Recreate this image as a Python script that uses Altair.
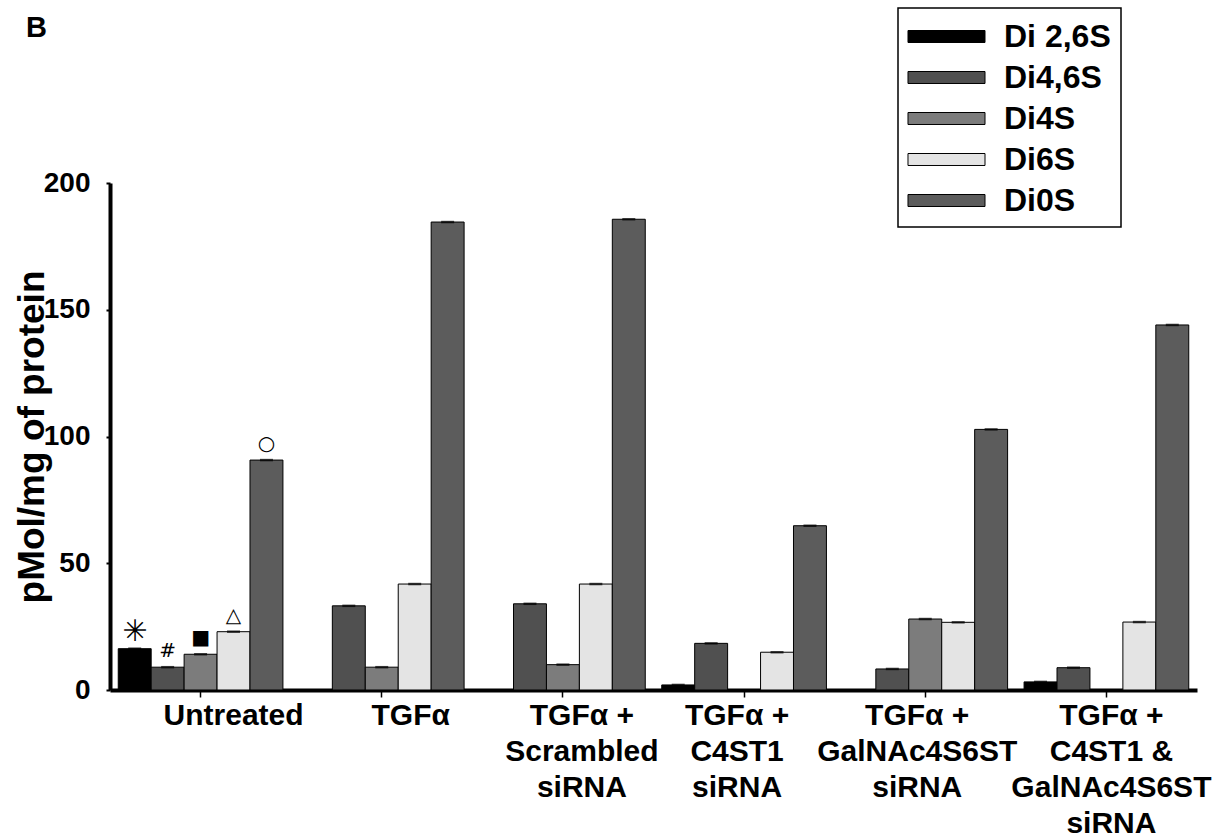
import altair as alt
import pandas as pd

# ---- data ----
groups = ["Untreated", "TGFα", "TGFα +|Scrambled|siRNA", "TGFα +|C4ST1|siRNA",
          "TGFα +|GalNAc4S6ST|siRNA", "TGFα +|C4ST1 &|GalNAc4S6ST|siRNA"]
series = ["Di 2,6S", "Di4,6S", "Di4S", "Di6S", "Di0S"]
di26 = [16.3, 0.0, 0.0, 2.0, 0.0, 3.2]
di46 = [9.0, 33.2, 34.0, 18.4, 8.3, 8.8]
di4s = [14.1, 9.0, 10.0, 0.0, 28.0, 0.0]
di6s = [23.0, 41.8, 41.8, 14.9, 26.7, 26.8]
di0s = [90.7, 184.6, 185.7, 64.8, 102.8, 144.0]
untreated_marks = ["✳", "#", "■", "△", "○"]
panel_label = ["B"]
fills = ["#000000", "#505050", "#7c7c7c", "#e4e4e4", "#5c5c5c"]
# horizontal shift of each category label relative to its tick (as in the figure)
label_shift = [33, 29, 19, -7, -8, 5]

values = [di26, di46, di4s, di6s, di0s]
rows = []
for s, vals in zip(series, values):
    for g, v in zip(groups, vals):
        rows.append({"group": g, "series": s, "value": v})
df = pd.DataFrame(rows)
df_nz = df[df["value"] > 0]
ann = pd.DataFrame({"group": [groups[0]] * 5, "series": series,
                    "value": [v[0] for v in values], "mark": untreated_marks})

FONT = "Liberation Sans"
shift_expr = "[" + ",".join(str(v) for v in label_shift) + "][round(datum.index*5)]"

x_enc = alt.X("group:N", sort=groups,
              scale=alt.Scale(paddingInner=0, paddingOuter=0),
              axis=alt.Axis(title=None, labelExpr="split(datum.label, '|')",
                            labelAngle=0, labelFont=FONT, labelFontSize=30,
                            labelFontWeight="bold", labelColor="black",
                            labelLineHeight=36, labelPadding=3, labelBaseline="top",
                            labelLimit=400, labelOverlap=False,
                            labelOffset={"expr": shift_expr},
                            tickSize=7, tickWidth=1.5, tickColor="black",
                            domainWidth=4, domainColor="black"))
xo_enc = alt.XOffset("series:N", sort=series,
                     scale=alt.Scale(paddingInner=0, paddingOuter=0.25))
y_enc = alt.Y("value:Q", scale=alt.Scale(domain=[0, 200], nice=False),
              axis=alt.Axis(values=[0, 50, 100, 150, 200], title="pMol/mg of protein",
                            grid=False, domainWidth=4, domainColor="black",
                            tickColor="black", tickSize=4, tickWidth=2,
                            labelFont=FONT, labelFontSize=28, labelFontWeight="bold",
                            labelColor="black", labelPadding=16,
                            titleFont=FONT, titleFontSize=37, titleFontWeight="bold",
                            titleColor="black", titleX=-67, titleY=253.5,
                            titleAngle=270, titleAlign="center",
                            titleBaseline="alphabetic"))

bars = alt.Chart(df_nz).mark_bar(stroke="black", strokeWidth=1).encode(
    x=x_enc, xOffset=xo_enc, y=y_enc,
    fill=alt.Fill("series:N", sort=series,
                  scale=alt.Scale(domain=series, range=fills),
                  legend=alt.Legend(orient="none", legendX=788, legendY=-175,
                                    title=None,
                                    symbolType="M-2.139,-0.333H2.139V0.333H-2.139Z",
                                    symbolSize=1296, symbolStrokeWidth=1,
                                    symbolStrokeColor="black", symbolOffset=20,
                                    labelOffset=39, labelFont=FONT, labelFontSize=32,
                                    labelFontWeight="bold", labelColor="black",
                                    labelExpr="datum.label + '\u00a0\u00a0\u00a0\u00a0'",
                                    rowPadding=6, padding=10,
                                    strokeColor="black",
                                    fillColor="white")),
)

caps = alt.Chart(df_nz).mark_tick(color="black", thickness=2.5, size=13).encode(
    x=x_enc, xOffset=xo_enc, y=y_enc)

star = alt.Chart(ann).transform_filter(alt.datum.mark == "✳").mark_text(
    font="DejaVu Sans", fontSize=30, baseline="middle", dy=-17, color="black"
).encode(x=x_enc, xOffset=xo_enc, y=y_enc, text="mark:N")

others = alt.Chart(ann).transform_filter(alt.datum.mark != "✳").mark_text(
    font="DejaVu Sans", fontSize=20, baseline="middle", dy=-16, color="black"
).encode(x=x_enc, xOffset=xo_enc, y=y_enc, text="mark:N")

panel = alt.Chart(pd.DataFrame({"panel": panel_label})).mark_text(
    font=FONT, fontSize=29, fontWeight="bold", color="black",
    align="left", baseline="alphabetic"
).encode(x=alt.value(-84), y=alt.value(-146), text="panel:N")

chart = alt.layer(bars, caps, star, others, panel).properties(
    width=1087, height=507,
    autosize=alt.AutoSizeParams(type="none"),
    padding={"left": 110, "top": 183, "right": 31, "bottom": 150},
).configure_view(stroke=None).configure_legend(strokeWidth=1.5)

chart.save("out.html", embed_options={"renderer": "svg", "actions": False})
